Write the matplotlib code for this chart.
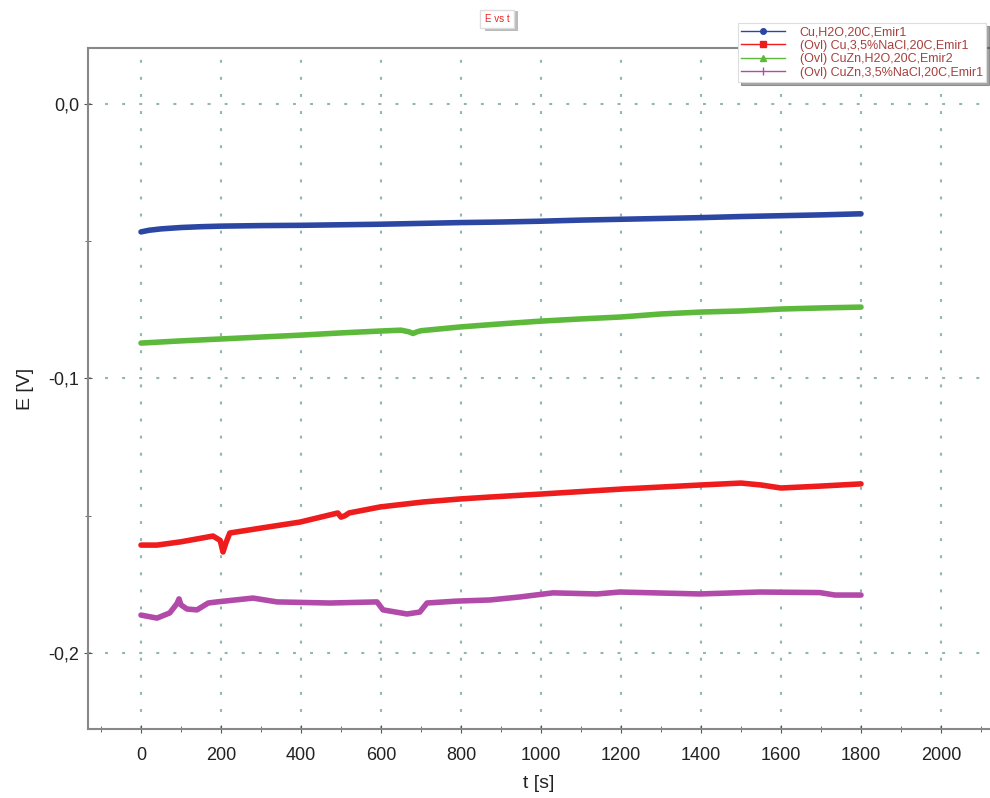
import numpy as np
import matplotlib
matplotlib.use("Agg")
import matplotlib.pyplot as plt
from matplotlib.patches import Rectangle
from matplotlib.ticker import MultipleLocator, FuncFormatter

plt.rcParams["font.family"] = ["Liberation Sans", "DejaVu Sans"]

# Cu, H2O
t_blue = [0, 20, 50, 100, 150, 200, 300, 400, 500, 600, 700, 800, 900, 1000,
          1100, 1200, 1300, 1400, 1500, 1600, 1700, 1800]
e_blue = [-0.0466, -0.0460, -0.0455, -0.0450, -0.0447, -0.0445, -0.0443, -0.0442,
          -0.0440, -0.0438, -0.0435, -0.0432, -0.0430, -0.0427, -0.0423, -0.0420,
          -0.0417, -0.0414, -0.0410, -0.0407, -0.0404, -0.0400]

# Cu, 3.5% NaCl
t_red = [0, 40, 100, 180, 198, 205, 212, 222, 300, 398, 492, 500, 510, 520, 598,
         705, 797, 872, 1000, 1200, 1400, 1500, 1550, 1600, 1700, 1800]
e_red = [-0.1607, -0.1607, -0.1595, -0.1574, -0.1590, -0.1632, -0.1600, -0.1563,
         -0.1545, -0.1523, -0.1490, -0.1505, -0.1500, -0.1490, -0.1468, -0.1450,
         -0.1439, -0.1432, -0.1421, -0.1403, -0.1388, -0.1381, -0.1388, -0.1399,
         -0.1392, -0.1384]

# CuZn, H2O
t_green = [0, 100, 200, 300, 400, 500, 600, 650, 670, 680, 690, 700, 800, 900,
           1000, 1100, 1200, 1300, 1400, 1500, 1600, 1700, 1800]
e_green = [-0.0871, -0.0863, -0.0856, -0.0849, -0.0842, -0.0834, -0.0827, -0.0824,
           -0.0830, -0.0836, -0.0830, -0.0826, -0.0812, -0.0801, -0.0791, -0.0783,
           -0.0776, -0.0765, -0.0758, -0.0754, -0.0747, -0.0743, -0.0740]

# CuZn, 3.5% NaCl
t_purple = [0, 40, 72, 90, 95, 100, 115, 140, 168, 190, 280, 340, 472, 590, 605,
            665, 697, 715, 790, 872, 947, 1030, 1140, 1197, 1397, 1547, 1697, 1735,
            1800]
e_purple = [-0.1862, -0.1873, -0.1854, -0.1820, -0.1803, -0.1825, -0.1840, -0.1843,
            -0.1818, -0.1814, -0.1800, -0.1814, -0.1818, -0.1814, -0.1843, -0.1858,
            -0.1851, -0.1818, -0.1811, -0.1807, -0.1796, -0.1781, -0.1785, -0.1778,
            -0.1785, -0.1778, -0.1780, -0.1789, -0.1789]

labels = ["Cu,H2O,20C,Emir1",
          "(Ovl) Cu,3,5%NaCl,20C,Emir1",
          "(Ovl) CuZn,H2O,20C,Emir2",
          "(Ovl) CuZn,3,5%NaCl,20C,Emir1"]

fig = plt.figure(figsize=(9.9, 7.98), dpi=100)
ax = fig.add_axes([88 / 990, 1 - 729 / 798, 1 - 88 / 990, (729 - 48) / 798])

series = [(t_blue, e_blue, "#2b46a3", "o", 4),
          (t_red, e_red, "#ee1c1c", "s", 4),
          (t_green, e_green, "#5db93b", "^", 4),
          (t_purple, e_purple, "#b24aa9", "|", 6)]

handles = []
for (t, e, c, m, ms), lab in zip(series, labels):
    ax.plot(t, e, color=c, lw=4, solid_capstyle="round", solid_joinstyle="round")
    h, = ax.plot([], [], color=c, lw=1.0, marker=m, ms=ms, label=lab)
    handles.append(h)

ax.set_xlim(-132.5, 2122.5)
ax.set_ylim(-0.2277, 0.0204)

ax.xaxis.set_major_locator(MultipleLocator(200))
ax.xaxis.set_minor_locator(MultipleLocator(100))
ax.yaxis.set_major_locator(MultipleLocator(0.1))
ax.yaxis.set_minor_locator(MultipleLocator(0.05))
ax.yaxis.set_major_formatter(FuncFormatter(lambda v, p: f"{v:.1f}".replace(".", ",").replace("-0,0", "0,0")))

ax.tick_params(which="both", direction="inout", colors="#555555", labelcolor="#222222",
               labelsize=13)
ax.tick_params(which="major", length=6)
ax.tick_params(which="minor", length=4)
ax.tick_params(axis="x", pad=10)

for s in ["left", "bottom", "top"]:
    ax.spines[s].set_color("#888888")
    ax.spines[s].set_linewidth(1.5)
ax.spines["right"].set_visible(False)

ax.grid(True, which="major", color="#8fb5b5", lw=1.5, linestyle=(0, (1.4, 6.8)))
ax.set_axisbelow(True)

ax.set_xlabel("t [s]", fontsize=14, color="#222222", labelpad=8)
ax.set_ylabel("E [V]", fontsize=14, color="#222222", labelpad=10)

# title box with shadow
fig.patches.append(Rectangle((485 / 990, 1 - 31 / 798), 33 / 990, 20 / 798,
                             transform=fig.transFigure, fc="#bbbbbb", ec="none", zorder=1))
fig.text(497 / 990, 1 - 19 / 798, "E vs t", fontsize=7, color="#ee2222", ha="center",
         va="center", zorder=3,
         bbox=dict(boxstyle="square,pad=0.45", fc="white", ec="#dddddd"))

leg = fig.legend(handles=handles, loc="upper left",
                 bbox_to_anchor=(738 / 990, 1 - 23 / 798), fontsize=9.0,
                 labelcolor="#a8403c", frameon=True, fancybox=False, shadow=True,
                 borderpad=0.25, labelspacing=0.12, handlelength=3.5,
                 handletextpad=1.2, borderaxespad=0)
leg.get_frame().set_edgecolor("#dddddd")
leg.get_frame().set_linewidth(0.8)

fig.savefig("out.png", dpi=100)
